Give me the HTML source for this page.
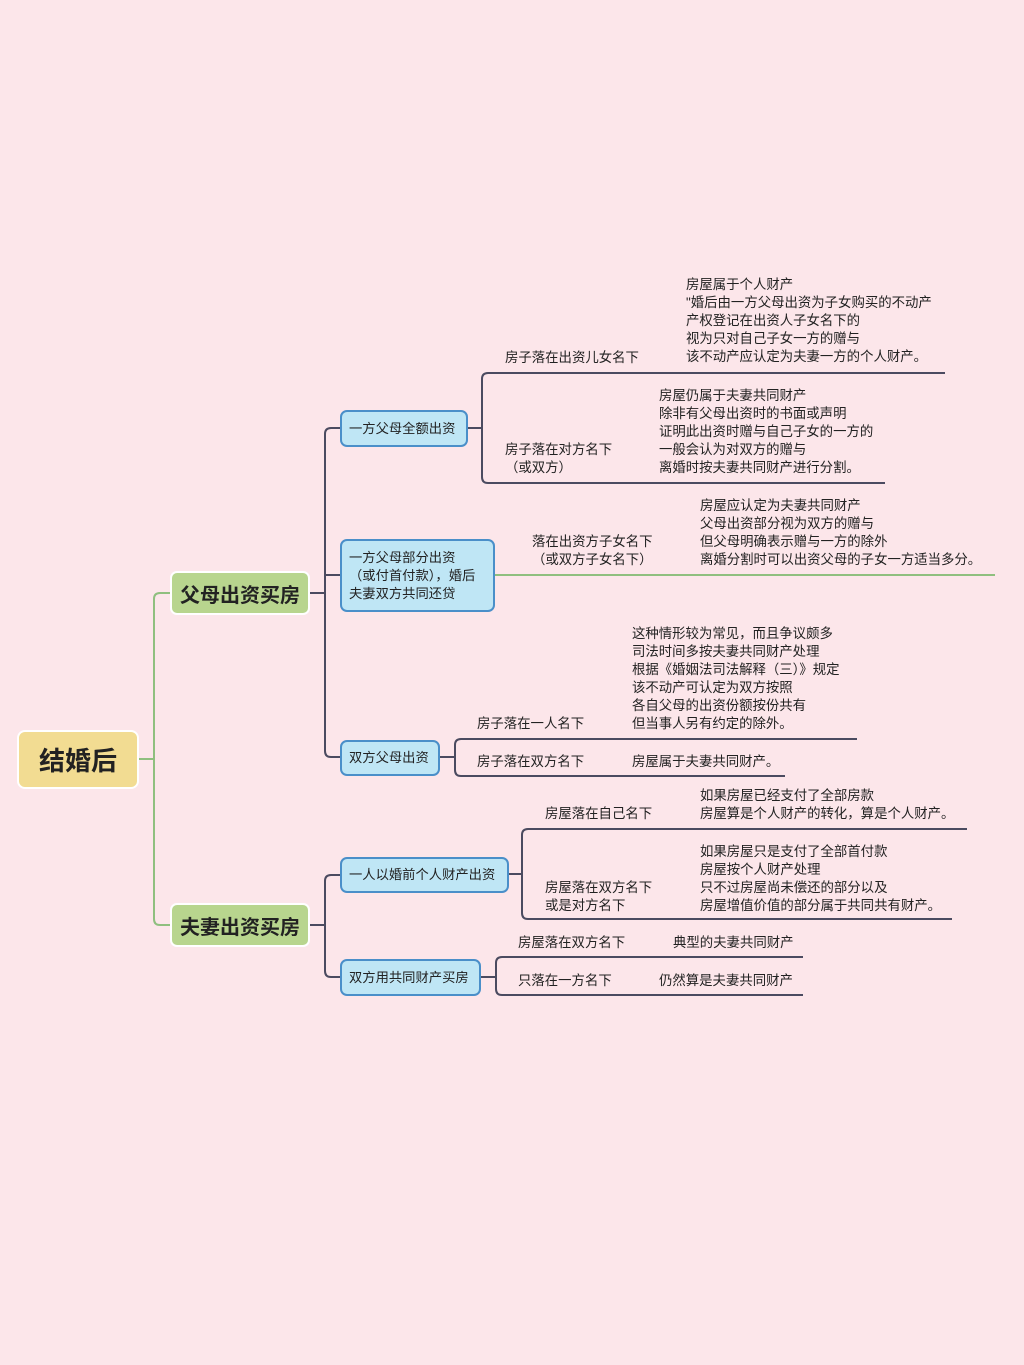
<!DOCTYPE html>
<html><head><meta charset="utf-8"><style>
body{margin:0;width:1024px;height:1365px;background:#fce6ea;position:relative;overflow:hidden;font-family:"Liberation Sans","Noto Sans CJK SC",sans-serif;color:#222;}
.t{position:absolute;font-size:13.4px;line-height:18px;white-space:nowrap;}
.n{position:absolute;box-sizing:border-box;background:#bfe6f5;border:2px solid #4a8fc9;border-radius:7px;font-size:13.3px;line-height:18px;padding:0 7px;display:flex;align-items:center;white-space:nowrap;}
.g{position:absolute;box-sizing:border-box;background:#b8d58e;border:2px solid #fff;border-radius:7px;font-size:20px;font-weight:bold;display:flex;align-items:center;justify-content:center;}
svg{position:absolute;left:0;top:0}
</style></head><body>
<svg width="1024" height="1365" fill="none">
<g stroke="#8fbf7f" stroke-width="2">
<path d="M138 759H154M171 593H160Q154 593 154 599V919Q154 925 160 925H171"/>
<path d="M494 575H995"/>
</g>
<g stroke="#4b4b60" stroke-width="2">
<path d="M309 593H325M309 925H325"/>
<path d="M340 428H331Q325 428 325 434V751Q325 757 331 757H340M325 575H340"/>
<path d="M340 875H331Q325 875 325 881V971Q325 977 331 977H340"/>
<path d="M467 428H482M945 373H488Q482 373 482 379V477Q482 483 488 483H885"/>
<path d="M439 757H455M857 739H461Q455 739 455 745V770Q455 776 461 776H785"/>
<path d="M508 874H522M967 829H528Q522 829 522 835V913Q522 919 528 919H952"/>
<path d="M480 977H496M803 957H502Q496 957 496 963V989Q496 995 502 995H803"/>
</g>
</svg>
<div class="g" style="left:17px;top:730px;width:122px;height:59px;background:#f2dc92;font-size:26px;border-radius:8px">结婚后</div>
<div class="g" style="left:170px;top:571px;width:140px;height:44px">父母出资买房</div>
<div class="g" style="left:170px;top:903px;width:140px;height:44px">夫妻出资买房</div>
<div class="n" style="left:340px;top:410px;width:128px;height:37px">一方父母全额出资</div>
<div class="n" style="left:340px;top:539px;width:155px;height:73px">一方父母部分出资<br>（或付首付款），婚后<br>夫妻双方共同还贷</div>
<div class="n" style="left:340px;top:740px;width:100px;height:36px">双方父母出资</div>
<div class="n" style="left:340px;top:857px;width:169px;height:36px">一人以婚前个人财产出资</div>
<div class="n" style="left:340px;top:959px;width:141px;height:37px">双方用共同财产买房</div>

<div class="t" style="left:505px;top:349px">房子落在出资儿女名下</div>
<div class="t" style="left:686px;top:276px">房屋属于个人财产<br>"婚后由一方父母出资为子女购买的不动产<br>产权登记在出资人子女名下的<br>视为只对自己子女一方的赠与<br>该不动产应认定为夫妻一方的个人财产。</div>
<div class="t" style="left:505px;top:441px">房子落在对方名下<br>（或双方）</div>
<div class="t" style="left:659px;top:387px">房屋仍属于夫妻共同财产<br>除非有父母出资时的书面或声明<br>证明此出资时赠与自己子女的一方的<br>一般会认为对双方的赠与<br>离婚时按夫妻共同财产进行分割。</div>
<div class="t" style="left:532px;top:533px">落在出资方子女名下<br>（或双方子女名下）</div>
<div class="t" style="left:700px;top:497px">房屋应认定为夫妻共同财产<br>父母出资部分视为双方的赠与<br>但父母明确表示赠与一方的除外<br>离婚分割时可以出资父母的子女一方适当多分。</div>
<div class="t" style="left:477px;top:715px">房子落在一人名下</div>
<div class="t" style="left:632px;top:625px">这种情形较为常见，而且争议颇多<br>司法时间多按夫妻共同财产处理<br>根据《婚姻法司法解释（三）》规定<br>该不动产可认定为双方按照<br>各自父母的出资份额按份共有<br>但当事人另有约定的除外。</div>
<div class="t" style="left:477px;top:753px">房子落在双方名下</div>
<div class="t" style="left:632px;top:753px">房屋属于夫妻共同财产。</div>
<div class="t" style="left:545px;top:805px">房屋落在自己名下</div>
<div class="t" style="left:700px;top:787px">如果房屋已经支付了全部房款<br>房屋算是个人财产的转化，算是个人财产。</div>
<div class="t" style="left:545px;top:879px">房屋落在双方名下<br>或是对方名下</div>
<div class="t" style="left:700px;top:843px">如果房屋只是支付了全部首付款<br>房屋按个人财产处理<br>只不过房屋尚未偿还的部分以及<br>房屋增值价值的部分属于共同共有财产。</div>
<div class="t" style="left:518px;top:934px">房屋落在双方名下</div>
<div class="t" style="left:673px;top:934px">典型的夫妻共同财产</div>
<div class="t" style="left:518px;top:972px">只落在一方名下</div>
<div class="t" style="left:659px;top:972px">仍然算是夫妻共同财产</div>
</body></html>
